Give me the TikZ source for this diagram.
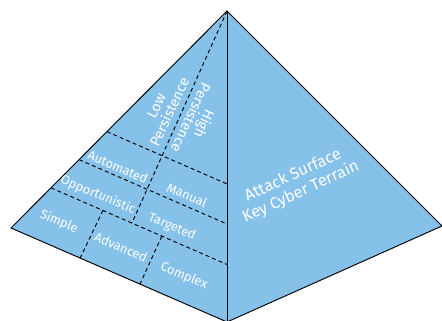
\documentclass[tikz,border=0pt]{standalone}
\usepackage{fontspec}
\setmainfont{Fira Sans}
\usepackage{tikz}
\usetikzlibrary{calc,positioning}

\definecolor{faceblue}{RGB}{133,193,233}

\begin{document}
\begin{tikzpicture}[x=0.03cm, y=-0.03cm]
        \tikzstyle{edge} = [line width=0.8pt, draw=black]
        \tikzstyle{split} = [line width=0.8pt, dash pattern=on 3.4pt off 2.6pt]
        \tikzstyle{tag} = [text=white, align=center, inner sep=0pt, font=\fontsize{10.9}{13}\selectfont]
        \tikzstyle{tall} = [tag, font=\fontsize{12.3}{12.5}\selectfont]
        \tikzstyle{bigtag} = [tag, font=\fontsize{13.8}{15.5}\selectfont]

        \useasboundingbox (0,0) rectangle (442,321);

        \coordinate (apex) at (227,11);
        \coordinate (left) at (11,228);
        \coordinate (bottom) at (227,322);
        \coordinate (right) at (442,226);

        % both faces and the front edge
        \draw [edge, fill=faceblue] (apex) -- (left) -- (bottom) -- (right) -- cycle;
        \draw [edge] (apex) -- (bottom);

        % rows of the left face, parallel to its base
        \foreach \t/\n in {0.556/1, 0.685/2, 0.815/3} {
            \coordinate (row\n l) at ($(apex)!\t!(left)$);
            \coordinate (row\n r) at ($(apex)!\t!(bottom)$);
            \draw [split] (row\n l) -- (row\n r);
        }

        % columns
        \coordinate (mid3) at ($(row3l)!0.46!(row3r)$);
        \coordinate (adv0) at ($(row3l)!0.295!(row3r)$);
        \coordinate (adv1) at ($(left)!0.32!(bottom)$);
        \coordinate (cpx0) at ($(row3l)!0.63!(row3r)$);
        \coordinate (cpx1) at ($(left)!0.597!(bottom)$);
        \draw [split] (apex) -- (mid3);
        \draw [split] (adv0) -- (adv1);
        \draw [split] (cpx0) -- (cpx1);

        % labels
        \node [tall, rotate=65, name=low] at (163,109) {Low\\Persistence};
        \node [tall, rotate=-115, name=high] at (198,121) {High\\Persistence};
        \node [tag, rotate=-23, name=automated] at (118,167) {Automated};
        \node [tag, rotate=-23, name=manual] at (187,195) {Manual};
        \node [tag, rotate=-23, name=opportunistic] at (98,195) {Opportunistic};
        \node [tag, rotate=-23, name=targeted] at (172,227) {Targeted};
        \node [tag, rotate=-23, name=simple] at (59,222) {Simple};
        \node [tag, rotate=-23, name=advanced] at (121,247) {Advanced};
        \node [tag, rotate=-23, name=complex] at (184,276) {Complex};
        \node [bigtag, rotate=25, name=terrain] at (297,184) {Attack Surface\\Key Cyber Terrain};

\end{tikzpicture}
\end{document}
